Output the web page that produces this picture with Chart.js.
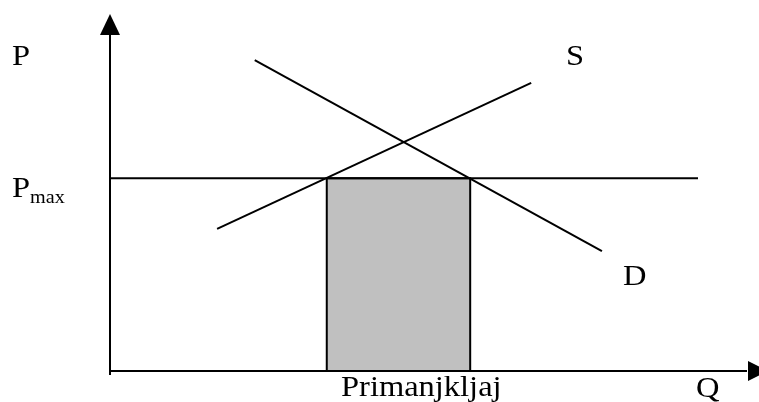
<!DOCTYPE html>
<html>
<head>
<meta charset="utf-8">
<script src="https://cdn.jsdelivr.net/npm/chart.js@4/dist/chart.umd.min.js"></script>
<style>
  html, body { margin: 0; padding: 0; background: #fff; }
  #wrap { width: 759px; height: 402px; }
</style>
</head>
<body>
<div id="wrap"><canvas id="chart" width="759" height="402"></canvas></div>
<script>
// supply / demand with a price ceiling (values in abstract Q/P units, 0..100)
const supplyQ = [16.5, 64.9];
const supplyP = [39.8, 80.7];
const demandQ = [22.3, 75.8];
const demandP = [87.1, 33.6];
const pMax = 54;
const pMaxQ = [0, 90.6];
const shortageQ = [33.4, 55.5];

const toPoints = (xs, ys) => xs.map((x, i) => ({ x, y: ys[i] }));

// labels drawn on the canvas by the plugin below
const labelP = "P";
const labelPmax = ["P", "max"];
const labelS = "S";
const labelD = "D";
const labelQ = "Q";
const labelShortage = "Primanjkljaj";

const serif = "'Liberation Serif', 'Times New Roman', serif";

// the reference text is a slightly wide Times face
function wideText(ctx, text, x, y, size) {
  ctx.save();
  ctx.font = size + "px " + serif;
  ctx.translate(x, y);
  ctx.scale(1.12, 1);
  ctx.fillText(text, 0, 0);
  ctx.restore();
}

// axes with arrow heads + text labels
const diagramPlugin = {
  id: "diagram",
  afterDatasetsDraw(chart) {
    const { ctx, scales: { x, y } } = chart;
    const x0 = x.getPixelForValue(0);
    const y0 = y.getPixelForValue(0);
    const yTop = y.getPixelForValue(100);
    const xEnd = x.getPixelForValue(100);

    ctx.save();
    ctx.strokeStyle = "#000";
    ctx.fillStyle = "#000";
    ctx.lineWidth = 2;

    // y axis
    ctx.beginPath();
    ctx.moveTo(x0, y0 + 4);
    ctx.lineTo(x0, yTop + 18);
    ctx.stroke();
    ctx.beginPath();
    ctx.moveTo(x0, yTop);
    ctx.lineTo(x0 - 10, yTop + 21);
    ctx.lineTo(x0 + 10, yTop + 21);
    ctx.closePath();
    ctx.fill();

    // x axis
    ctx.beginPath();
    ctx.moveTo(x0, y0);
    ctx.lineTo(xEnd - 12, y0);
    ctx.stroke();
    ctx.beginPath();
    ctx.moveTo(xEnd + 9, y0);
    ctx.lineTo(xEnd - 11, y0 - 10);
    ctx.lineTo(xEnd - 11, y0 + 10);
    ctx.closePath();
    ctx.fill();

    // text
    ctx.textBaseline = "alphabetic";
    ctx.textAlign = "left";
    wideText(ctx, labelP, 12, 65, 29);
    wideText(ctx, labelPmax[0], 12, 197, 29);
    wideText(ctx, labelPmax[1], 30, 203, 18);
    wideText(ctx, labelS, 566, 65, 29);
    wideText(ctx, labelD, 623, 285, 29);
    wideText(ctx, labelQ, 696, 397, 29);
    wideText(ctx, labelShortage, 341, 396, 29);
    ctx.restore();
  }
};

new Chart(document.getElementById("chart"), {
  type: "scatter",
  data: {
    datasets: [
      {
        label: "Primanjkljaj",
        data: [
          { x: shortageQ[0], y: 0 },
          { x: shortageQ[0], y: pMax },
          { x: shortageQ[1], y: pMax },
          { x: shortageQ[1], y: 0 }
        ],
        showLine: true,
        fill: "origin",
        backgroundColor: "#c0c0c0",
        borderColor: "#000",
        borderWidth: 2,
        pointRadius: 0,
        order: 3
      },
      {
        label: "Pmax",
        data: toPoints(pMaxQ, [pMax, pMax]),
        showLine: true,
        borderColor: "#000",
        borderWidth: 2,
        pointRadius: 0,
        order: 2
      },
      {
        label: "S",
        data: toPoints(supplyQ, supplyP),
        showLine: true,
        borderColor: "#000",
        borderWidth: 2,
        pointRadius: 0,
        order: 1
      },
      {
        label: "D",
        data: toPoints(demandQ, demandP),
        showLine: true,
        borderColor: "#000",
        borderWidth: 2,
        pointRadius: 0,
        order: 1
      }
    ]
  },
  options: {
    responsive: false,
    animation: false,
    layout: { padding: { left: 110, right: 0, top: 14, bottom: 31 } },
    scales: {
      x: { type: "linear", min: 0, max: 100, display: false },
      y: { type: "linear", min: 0, max: 100, display: false }
    },
    plugins: {
      legend: { display: false },
      tooltip: { enabled: false }
    }
  },
  plugins: [diagramPlugin]
});
</script>
</body>
</html>
